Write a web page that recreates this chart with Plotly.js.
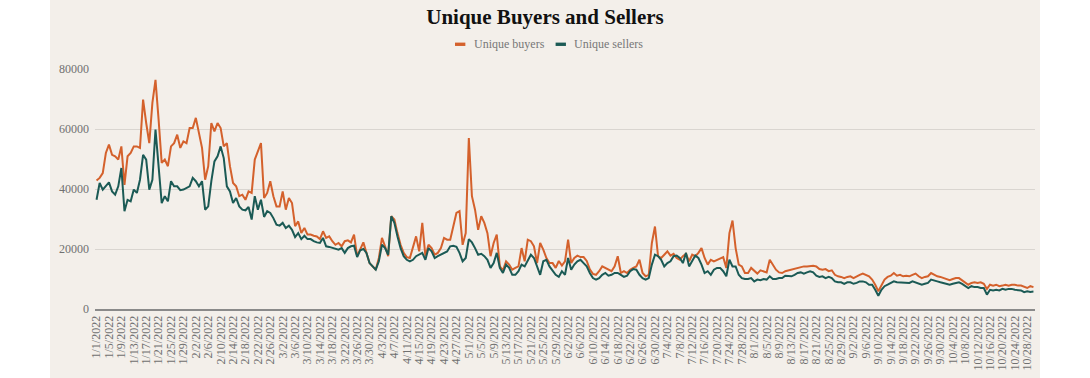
<!DOCTYPE html>
<html>
<head>
<meta charset="utf-8">
<script src="https://cdn.plot.ly/plotly-3.0.1.min.js"></script>
<style>
  html, body { margin: 0; padding: 0; background: #ffffff; }
  #chart { position: absolute; left: 50px; top: 0; width: 990px; height: 378px; }
</style>
</head>
<body>
<div id="chart"></div>
<script>
// Daily series, 1/1/2022 .. 10/30/2022 (303 days)
const startDate = '2022-01-01';
const numDays = 303;

const uniqueBuyers = [
  42800,43700,45300,52000,54800,51400,50900,49800,54200,41400,
  50900,52000,54200,54200,53700,69800,62000,55300,68700,76400,
  63100,48700,49800,47600,54200,55300,58100,53700,55900,55300,
  60300,60300,63700,58700,53700,43100,47600,62000,59200,62000,
  60300,54200,55300,47600,42000,40900,37600,38100,36400,39200,
  38700,49800,52500,55300,37000,38700,42600,37600,34200,34200,
  39200,33100,37000,35300,27600,29200,25300,27000,24800,24800,
  24400,24200,23300,25900,23700,24200,22600,21400,22000,20900,
  22600,22900,22200,24800,17600,19800,22200,18700,15300,14200,
  13100,17000,23700,20900,17600,30900,29800,25300,21400,18700,
  17300,17000,20900,24200,19200,28700,17600,21400,20300,18100,
  18700,20300,23700,23100,23100,27600,32000,32600,21400,25300,
  57000,37600,33100,26400,30900,28700,25300,17600,22000,24800,
  14200,12900,15900,14800,13100,13700,14200,20300,15900,23100,
  22600,20900,15300,22000,19800,17000,15300,15300,13700,16000,
  14500,15900,23100,15300,17000,17800,17300,17300,16000,13200,
  11700,11400,12600,14200,13700,13300,12600,14200,17600,12000,
  12600,12000,13100,13700,14200,16400,12000,10900,11400,22000,
  27500,17600,17000,18100,19200,17800,18400,17000,16400,17600,
  18400,15900,18100,17600,18700,20300,17000,14800,16400,15900,
  16400,16700,17300,13700,25300,29500,20300,14800,14200,12000,
  12000,13700,12600,11800,12900,12600,12200,16400,14800,13100,
  12200,12000,12600,12900,13100,13300,13700,14000,14200,14200,
  14400,14400,14200,13300,13100,13300,12600,12900,11400,10900,
  10700,10300,10700,10900,10300,10900,11400,11800,11400,10900,
  9800,8100,5900,8100,9800,10700,11100,12000,11100,11400,
  10900,11100,10900,11400,11800,10900,10300,10700,10900,12000,
  11400,10900,10700,10300,9800,9600,10000,10300,10300,9600,
  8700,8100,8700,8900,8700,8900,8400,6700,8100,7800,
  8100,7600,7800,8100,7800,8100,8100,7800,7800,7300,
  7000,7600,7300
];

const uniqueSellers = [
  36400,42000,39800,40900,42200,39200,38100,40900,47000,32600,
  36400,35900,39800,38700,43100,51400,49800,39800,43100,59800,
  48700,35300,37600,35900,42600,40900,40900,39600,39800,40300,
  40900,43700,42600,40900,42600,33100,34200,42600,49200,50900,
  54200,50300,40900,39200,35300,37000,34200,33100,32900,34000,
  29800,37600,33100,36400,30700,32600,32000,30300,28100,27800,
  28700,27000,27800,26400,24000,25300,23300,24400,23300,23300,
  22600,22200,22000,23700,20900,20700,20400,20300,19800,20300,
  18700,20300,20900,21100,17300,19600,20000,18700,15300,14200,
  13100,15900,21400,20300,18100,30900,28700,24200,20300,17600,
  16400,15900,16400,17600,18100,18700,16400,20300,19200,17000,
  17600,18100,18700,19200,20900,21100,20700,18700,15900,17000,
  23300,22200,20300,18100,18400,17600,16400,13700,15300,18700,
  13700,12000,14800,13700,11400,11400,12600,14800,14200,16400,
  18100,17000,14200,11400,15900,16400,14200,12600,11400,10700,
  12600,11400,17000,13100,14800,15900,16400,15300,14200,12000,
  10300,9800,10300,11400,12000,11100,11400,12000,12000,11400,
  10700,11100,12600,13300,13100,11400,10300,9800,10300,14800,
  18100,17600,16400,14200,15300,15900,17600,17800,17000,15300,
  18700,14200,15900,17800,17000,14800,12000,12600,11400,13100,
  13700,13700,12600,10900,16400,14200,14200,11400,10300,10000,
  10000,10300,9200,9800,9600,10000,9800,10900,10000,10000,
  10300,10300,11100,11100,10900,11400,12000,12200,11800,12200,
  12600,12200,11100,10700,10900,10300,10700,10300,9200,8900,
  8900,8400,8900,8900,8400,8700,9200,9200,8900,8100,
  8100,6400,4400,6400,7600,8100,8700,9200,8900,8900,
  8700,8900,8700,9200,8900,8400,8100,8400,8700,9800,
  9600,9200,8900,8700,8400,8100,8400,8700,8900,8400,
  7800,7000,7600,7300,7300,7000,7000,4800,6400,6200,
  6400,6200,6700,6400,6700,6700,6400,6400,6200,5600,
  5900,5700,5800
];

const seriesNames = ['Unique buyers', 'Unique sellers'];
const seriesColors = ['#d4612c', '#1b5a55'];

// consecutive calendar days for the x axis
const dates = [];
(function () {
  const d0 = new Date(startDate + 'T00:00:00Z');
  for (let i = 0; i < numDays; i++) {
    const d = new Date(d0.getTime() + i * 86400000);
    dates.push(d.toISOString().slice(0, 10));
  }
})();

const serif = 'Liberation Serif, Times New Roman, serif';

const traces = [
  { x: dates, y: uniqueBuyers, name: seriesNames[0], type: 'scatter', mode: 'lines',
    line: { color: seriesColors[0], width: 2 }, showlegend: false, hoverinfo: 'skip' },
  { x: dates, y: uniqueSellers, name: seriesNames[1], type: 'scatter', mode: 'lines',
    line: { color: seriesColors[1], width: 2 }, showlegend: false, hoverinfo: 'skip' }
];

const legY = 1.103;
const layout = {
  width: 990, height: 378,
  paper_bgcolor: '#f3efea',
  plot_bgcolor: '#f3efea',
  margin: { l: 45, r: 5, t: 69, b: 69 },
  title: {
    text: '<b>Unique Buyers and Sellers</b>',
    x: 0.5, xanchor: 'center', y: 0.955, yanchor: 'middle',
    font: { family: serif, size: 21, color: '#111111' }
  },
  xaxis: {
    type: 'date',
    range: ['2021-12-31 12:00', '2022-10-30 12:00'],
    tick0: '2022-01-01', dtick: 4 * 86400000,
    tickformat: '%-m/%-d/%Y',
    tickangle: -90,
    tickfont: { family: serif, size: 12, color: '#707070' },
    showgrid: false,
    showline: true, linecolor: '#8a8a8a', linewidth: 2,
    zeroline: false, ticks: '', fixedrange: true
  },
  yaxis: {
    range: [0, 80000],
    dtick: 20000,
    tickformat: 'd',
    tickfont: { family: serif, size: 12, color: '#707070' },
    gridcolor: '#d9d5d0', gridwidth: 1,
    zeroline: false, showline: false, ticks: '',
    ticklabelstandoff: 5, fixedrange: true
  },
  shapes: [
    { type: 'rect', xref: 'paper', yref: 'paper', x0: 0.383, x1: 0.394,
      y0: legY - 0.007, y1: legY + 0.007, fillcolor: seriesColors[0], line: { width: 0 } },
    { type: 'rect', xref: 'paper', yref: 'paper', x0: 0.490, x1: 0.501,
      y0: legY - 0.007, y1: legY + 0.007, fillcolor: seriesColors[1], line: { width: 0 } }
  ],
  annotations: [
    { text: seriesNames[0], xref: 'paper', yref: 'paper', x: 0.401, y: legY,
      xanchor: 'left', yanchor: 'middle', showarrow: false,
      font: { family: serif, size: 12, color: '#777777' } },
    { text: seriesNames[1], xref: 'paper', yref: 'paper', x: 0.507, y: legY,
      xanchor: 'left', yanchor: 'middle', showarrow: false,
      font: { family: serif, size: 12, color: '#777777' } }
  ],
  hovermode: false,
  showlegend: false
};

Plotly.newPlot('chart', traces, layout, { displayModeBar: false, staticPlot: true });
</script>
</body>
</html>
